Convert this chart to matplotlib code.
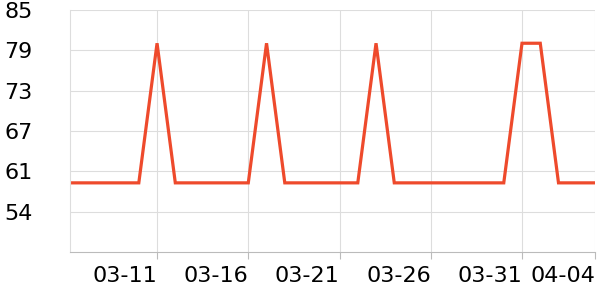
import matplotlib
matplotlib.use('Agg')
import matplotlib.pyplot as plt
import matplotlib.dates as mdates
import pandas as pd

# daily values 03-06 .. 04-04
dates = pd.date_range('2024-03-06', '2024-04-04', freq='D')
values = [59, 59, 59, 59, 59, 80,
          59, 59, 59, 59, 59, 80,
          59, 59, 59, 59, 59, 80,
          59, 59, 59, 59, 59, 59, 59, 80, 80,
          59, 59, 59]

ytick_labels = ['54', '61', '67', '73', '79', '85']
xtick_dates = pd.to_datetime(['2024-03-11', '2024-03-16', '2024-03-21',
                              '2024-03-26', '2024-03-31', '2024-04-04'])

ymin, ymax = 48.6, 85
step = (ymax - ymin) / 6

fig = plt.figure(figsize=(6, 3), dpi=100)
ax = fig.add_axes([70 / 600, 48 / 300, 525 / 600, 242 / 300])

ax.plot(dates, values, color='#ee4a2c', linewidth=2.3, solid_joinstyle='miter')

# the view starts a few hours after the first sample, like the original
ax.set_xlim(dates[0] + pd.Timedelta(hours=5.5), dates[-1])
ax.set_ylim(ymin, ymax)
ax.set_yticks([ymin + step * (i + 1) for i in range(6)])
ax.set_yticklabels(ytick_labels)
ax.set_xticks(xtick_dates)
ax.xaxis.set_major_formatter(mdates.DateFormatter('%m-%d'))
for lbl in ax.get_xticklabels():
    lbl.set_horizontalalignment('right')

ax.grid(True, color='#dddddd', linewidth=0.8)
ax.set_axisbelow(True)
for s in ['top', 'right']:
    ax.spines[s].set_visible(False)
ax.spines['left'].set_color('#dddddd')
ax.spines['left'].set_linewidth(0.8)
ax.spines['bottom'].set_color('#bbbbbb')
ax.spines['bottom'].set_linewidth(0.8)

ax.tick_params(axis='y', length=0, pad=27, labelsize=16)
ax.tick_params(axis='x', length=5, width=0.8, color='#bbbbbb', pad=5, labelsize=16)

fig.savefig('out.png', dpi=100)
